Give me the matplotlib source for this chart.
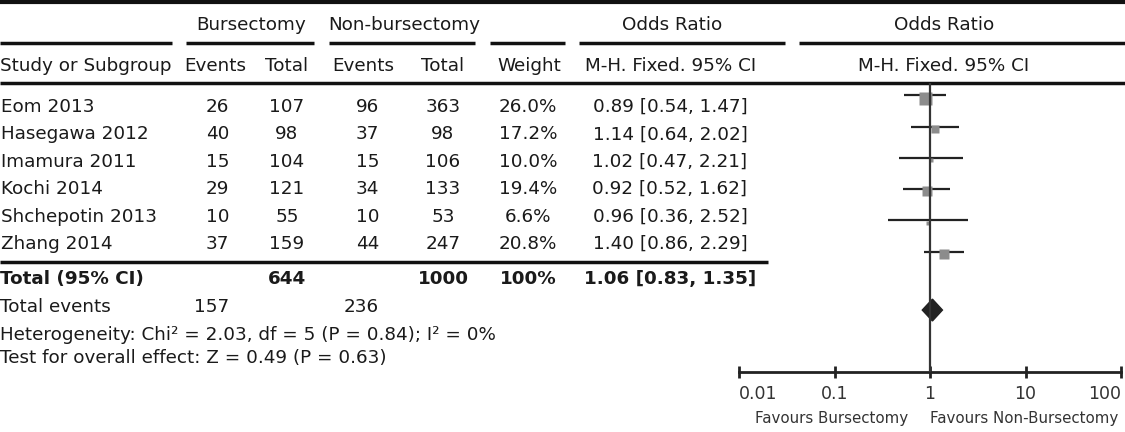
import matplotlib
matplotlib.use('Agg')
import matplotlib.pyplot as plt
from matplotlib.ticker import FixedLocator, FixedFormatter, NullLocator

# adatok
studies = ['Eom 2013', 'Hasegawa 2012', 'Imamura 2011', 'Kochi 2014', 'Shchepotin 2013', 'Zhang 2014']
burs_events = [26, 40, 15, 29, 10, 37]
burs_total = [107, 98, 104, 121, 55, 159]
non_events = [96, 37, 15, 34, 10, 44]
non_total = [363, 98, 106, 133, 53, 247]
weights = [26.0, 17.2, 10.0, 19.4, 6.6, 20.8]
odds = [0.89, 1.14, 1.02, 0.92, 0.96, 1.40]
ci_low = [0.54, 0.64, 0.47, 0.52, 0.36, 0.86]
ci_high = [1.47, 2.02, 2.21, 1.62, 2.52, 2.29]

total_label = 'Total (95% CI)'
burs_total_sum = 644
non_total_sum = 1000
total_weight = '100%'
total_or = 1.06
total_low = 0.83
total_high = 1.35
burs_events_sum = 157
non_events_sum = 236
heterogeneity = 'Heterogeneity: Chi\u00b2 = 2.03, df = 5 (P = 0.84); I\u00b2 = 0%'
overall = 'Test for overall effect: Z = 0.49 (P = 0.63)'

ticks = [0.01, 0.1, 1, 10, 100]
tick_labels = ['0.01', '0.1', '1', '10', '100']

plt.rcParams['font.family'] = ['DejaVu Sans']
txt = '#1a1a1a'
fs = 13.2

fig = plt.figure(figsize=(11.25, 4.32), dpi=100)
ax = fig.add_axes([0, 0, 1, 1])
ax.set_xlim(0, 1125)
ax.set_ylim(432, 0)
ax.axis('off')

def t(x, y, s, ha='left', bold=False):
    ax.text(x, y + 7, s, ha=ha, va='baseline', fontsize=fs, color=txt,
            fontweight='bold' if bold else 'normal')

# vonalak
ax.hlines(1.5, 0, 1125, color='#111', lw=3)
for x0, x1 in [(0, 172), (186, 314), (329, 475), (490, 565), (579, 785), (799, 1125)]:
    ax.hlines(43, x0, x1, color='#111', lw=2.5)
ax.hlines(83, 0, 1125, color='#111', lw=2.5)
ax.hlines(262, 0, 768, color='#111', lw=2.5)

# fejlec
t(251, 23, 'Bursectomy', 'center')
t(404, 23, 'Non-bursectomy', 'center')
t(672, 23, 'Odds Ratio', 'center')
t(944, 23, 'Odds Ratio', 'center')
t(0, 64, 'Study or Subgroup')
t(215, 64, 'Events', 'center')
t(287, 64, 'Total', 'center')
t(363, 64, 'Events', 'center')
t(443, 64, 'Total', 'center')
t(529, 64, 'Weight', 'center')
t(671, 64, 'M-H. Fixed. 95% CI', 'center')
t(944, 64, 'M-H. Fixed. 95% CI', 'center')

# sorok
for i in range(len(studies)):
    y = 105 + 27.4 * i
    t(1, y, studies[i])
    t(229, y, str(burs_events[i]), 'right')
    t(287, y, str(burs_total[i]), 'center')
    t(379, y, str(non_events[i]), 'right')
    t(443, y, str(non_total[i]), 'center')
    t(528, y, '%.1f%%' % weights[i], 'center')
    t(670, y, '%.2f [%.2f, %.2f]' % (odds[i], ci_low[i], ci_high[i]), 'center')

t(0, 277, total_label, bold=True)
t(287, 277, str(burs_total_sum), 'center', bold=True)
t(443, 277, str(non_total_sum), 'center', bold=True)
t(528, 277, total_weight, 'center', bold=True)
t(670, 277, '%.2f [%.2f, %.2f]' % (total_or, total_low, total_high), 'center', bold=True)
t(0, 305, 'Total events')
t(229, 305, str(burs_events_sum), 'right')
t(379, 305, str(non_events_sum), 'right')
t(0, 333, heterogeneity)
t(0, 356, overall)

# forest plot
W, H = 1125.0, 432.0
fax = fig.add_axes([739 / W, 1 - 372 / H, (1121 - 739) / W, (372 - 83) / H])
fax.set_xscale('log')
fax.set_xlim(0.01, 100)
fax.set_ylim(8.86, -0.40)
fax.patch.set_alpha(0)
for s in ['top', 'left', 'right']:
    fax.spines[s].set_visible(False)
fax.spines['bottom'].set_linewidth(2)
fax.spines['bottom'].set_color('#222')
fax.yaxis.set_visible(False)
fax.xaxis.set_major_locator(FixedLocator(ticks))
fax.xaxis.set_major_formatter(FixedFormatter(tick_labels))
fax.xaxis.set_minor_locator(NullLocator())
fax.tick_params(axis='x', direction='inout', length=9, width=2, color='#222',
                labelsize=12.5, labelcolor='#333', pad=5)
labels = fax.get_xticklabels()
labels[0].set_ha('left')
labels[-1].set_ha('right')

rows = list(range(len(studies)))
fax.hlines(rows, ci_low, ci_high, color='#222', lw=1.6, zorder=2)
for i in rows:
    fax.plot(odds[i], i + 0.07, marker='s', ms=0.5 * weights[i] * 0.72,
             color='#8c8c8c', mec='none', zorder=3, clip_on=False)
dy = 6.875
fax.fill([total_low, total_or, total_high, total_or],
         [dy, dy - 0.35, dy, dy + 0.35], color='#222', zorder=3)
fax.axvline(1, color='#333', lw=1.6, zorder=4)

ax.text(908, 419, 'Favours Bursectomy', ha='right', va='center', fontsize=10.8, color='#333')
ax.text(930, 419, 'Favours Non-Bursectomy', ha='left', va='center', fontsize=10.8, color='#333')

fig.savefig('out.png', dpi=100)
